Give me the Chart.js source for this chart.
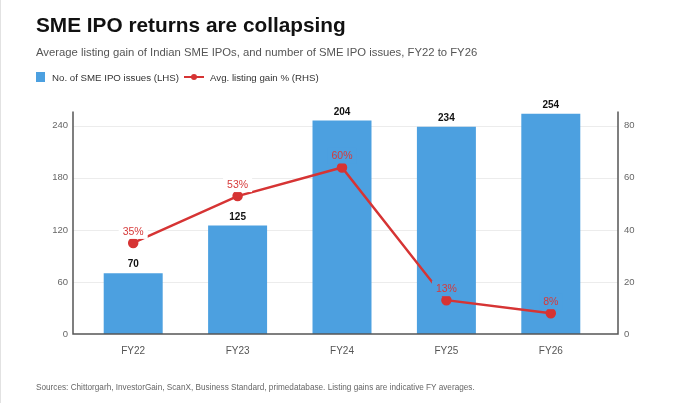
<!DOCTYPE html>
<html>
<head>
<meta charset="utf-8">
<script src="https://cdn.jsdelivr.net/npm/chart.js@4"></script>
<style>
    html, body {
        margin: 0;
        padding: 0;
        background: #ffffff;
    }

    #page {
        position: relative;
        width: 680px;
        height: 403px;
        overflow: hidden;
        font-family: "Liberation Sans", Arial, sans-serif;
        border-left: 1px solid #e2e2e2;
        box-sizing: border-box;
    }

    #myChart {
        position: absolute;
        left: 0;
        top: 0;
    }

    .txt {
        position: absolute;
        white-space: nowrap;
        line-height: 1;
    }

    #title {
        left: 35px;
        top: 15px;
        font-size: 20.8px;
        font-weight: bold;
        color: #111;
    }

    #subtitle {
        left: 35px;
        top: 46.5px;
        font-size: 11.3px;
        color: #555;
    }

    #legend {
        left: 35px;
        top: 72px;
        font-size: 9.7px;
        color: #333;
    }

    #legend .box {
        display: inline-block;
        width: 9px;
        height: 10px;
        background: #4ca0e0;
        vertical-align: -1px;
        margin-right: 7px;
    }

    #legend .lineKey {
        display: inline-block;
        position: relative;
        width: 20px;
        height: 10px;
        vertical-align: -1px;
        margin: 0 6px 0 5px;
    }

    #legend .lineKey::before {
        content: "";
        position: absolute;
        left: 0;
        right: 0;
        top: 4px;
        height: 2px;
        background: #d63434;
    }

    #legend .lineKey::after {
        content: "";
        position: absolute;
        left: 7px;
        top: 2px;
        width: 6px;
        height: 6px;
        border-radius: 50%;
        background: #d63434;
    }

    #footer {
        left: 35px;
        top: 382px;
        font-size: 9.5px;
        color: #666;
        transform: scaleX(0.863);
        transform-origin: left top;
    }
</style>
</head>
<body>
<div id="page">
    <canvas id="myChart" width="680" height="403"></canvas>
    <div class="txt" id="title">SME IPO returns are collapsing</div>
    <div class="txt" id="subtitle">Average listing gain of Indian SME IPOs, and number of SME IPO issues, FY22 to FY26</div>
    <div class="txt" id="legend"><span class="box"></span>No. of SME IPO issues (LHS)<span class="lineKey"></span>Avg. listing gain % (RHS)</div>
    <div class="txt" id="footer">Sources: Chittorgarh, InvestorGain, ScanX, Business Standard, primedatabase. Listing gains are indicative FY averages.</div>
</div>

<script>
    // values as drawn in the picture (bar heights / point heights)
    const categories = ['FY22', 'FY23', 'FY24', 'FY25', 'FY26'];
    const ipoIssues = [70, 125, 246, 239, 254];
    const listingGain = [35, 53, 64, 13, 8];

    // labels as printed on the picture
    const issueLabels = ['70', '125', '204', '234', '254'];
    const gainLabels = ['35%', '53%', '60%', '13%', '8%'];

    const leftTicks = [0, 60, 120, 180, 240];
    const rightTicks = [0, 20, 40, 60, 80];

    const barColor = '#4ca0e0';
    const lineColor = '#d63434';
    const fontFamily = '"Liberation Sans", Arial, sans-serif';

    // grid + axis lines run a bit wider than the category area
    const axisLeftGap = 8;
    const axisRightGap = 15;

    const frame = {
        id: 'frame',
        beforeDatasetsDraw(chart) {
            const ctx = chart.ctx;
            const a = chart.chartArea;
            const yL = chart.scales.yL;
            ctx.save();
            ctx.strokeStyle = '#ececec';
            ctx.lineWidth = 1;
            leftTicks.forEach(function (v) {
                if (v === 0) return;
                const y = Math.round(yL.getPixelForValue(v)) + 0.5;
                ctx.beginPath();
                ctx.moveTo(a.left - axisLeftGap, y);
                ctx.lineTo(a.right + axisRightGap, y);
                ctx.stroke();
            });
            ctx.restore();
        },
        afterDatasetsDraw(chart) {
            const ctx = chart.ctx;
            const a = chart.chartArea;
            const x0 = a.left - axisLeftGap;
            const x1 = a.right + axisRightGap;

            ctx.save();
            ctx.strokeStyle = '#555';
            ctx.lineWidth = 1.5;
            ctx.beginPath();
            ctx.moveTo(x0, a.top);
            ctx.lineTo(x0, a.bottom);
            ctx.lineTo(x1, a.bottom);
            ctx.lineTo(x1, a.top);
            ctx.stroke();

            // bar labels
            const bars = chart.getDatasetMeta(0).data;
            ctx.font = 'bold 10px ' + fontFamily;
            ctx.fillStyle = '#111';
            ctx.textAlign = 'center';
            ctx.textBaseline = 'alphabetic';
            bars.forEach(function (b, i) {
                ctx.fillText(issueLabels[i], b.x, b.y - 6);
            });

            // line labels, on a small box that hides the line behind them
            const pts = chart.getDatasetMeta(1).data;
            ctx.font = '10.5px ' + fontFamily;
            const capH = 7.5;
            pts.forEach(function (p, i) {
                const txt = gainLabels[i];
                const w = ctx.measureText(txt).width;
                const base = p.y - 8;
                const bx = p.x - w / 2 - 4;
                const by = base - capH - 4;
                const bw = w + 8;
                const bh = capH + 8;
                const b = bars[i];
                const inBar = by + bh > b.y && bx > b.x - b.width / 2 && bx + bw < b.x + b.width / 2;
                ctx.fillStyle = inBar ? barColor : '#ffffff';
                ctx.fillRect(bx, by, bw, bh);
                ctx.fillStyle = '#d63a3a';
                ctx.fillText(txt, p.x, base);
            });
            ctx.restore();
        }
    };

    const data = {
        labels: categories,
        datasets: [{
            type: 'bar',
            label: 'No. of SME IPO issues (LHS)',
            data: ipoIssues,
            backgroundColor: barColor,
            yAxisID: 'yL',
            order: 2,
            barPercentage: 0.565,
            categoryPercentage: 1.0
        }, {
            type: 'line',
            label: 'Avg. listing gain % (RHS)',
            data: listingGain,
            borderColor: lineColor,
            backgroundColor: lineColor,
            borderWidth: 2.5,
            pointRadius: 4,
            pointHoverRadius: 4,
            tension: 0,
            yAxisID: 'yR',
            order: 1
        }]
    };

    const config = {
        data: data,
        options: {
            responsive: false,
            animation: false,
            devicePixelRatio: 1,
            layout: {
                padding: { top: 111.5, bottom: 44, left: 0, right: 0 }
            },
            plugins: {
                legend: { display: false },
                tooltip: { enabled: false }
            },
            scales: {
                x: {
                    grid: { display: false, drawTicks: false },
                    border: { display: false },
                    ticks: {
                        color: '#555',
                        padding: 11,
                        font: { family: fontFamily, size: 10 }
                    },
                    afterFit: function (s) { s.height = 25; }
                },
                yL: {
                    type: 'linear',
                    position: 'left',
                    min: 0,
                    max: 256.5,
                    grid: { display: false, drawTicks: false },
                    border: { display: false },
                    ticks: {
                        stepSize: 60,
                        color: '#666',
                        padding: 13,
                        font: { family: fontFamily, size: 9.5 }
                    },
                    afterBuildTicks: function (s) {
                        s.ticks = leftTicks.map(function (v) { return { value: v }; });
                    },
                    afterFit: function (s) { s.width = 80; }
                },
                yR: {
                    type: 'linear',
                    position: 'right',
                    min: 0,
                    max: 85.5,
                    grid: { display: false, drawTicks: false },
                    border: { display: false },
                    ticks: {
                        stepSize: 20,
                        color: '#666',
                        padding: 21,
                        font: { family: fontFamily, size: 9.5 }
                    },
                    afterBuildTicks: function (s) {
                        s.ticks = rightTicks.map(function (v) { return { value: v }; });
                    },
                    afterFit: function (s) { s.width = 78; }
                }
            }
        },
        plugins: [frame]
    };

    const myChart = new Chart(document.getElementById('myChart'), config);
</script>
</body>
</html>
